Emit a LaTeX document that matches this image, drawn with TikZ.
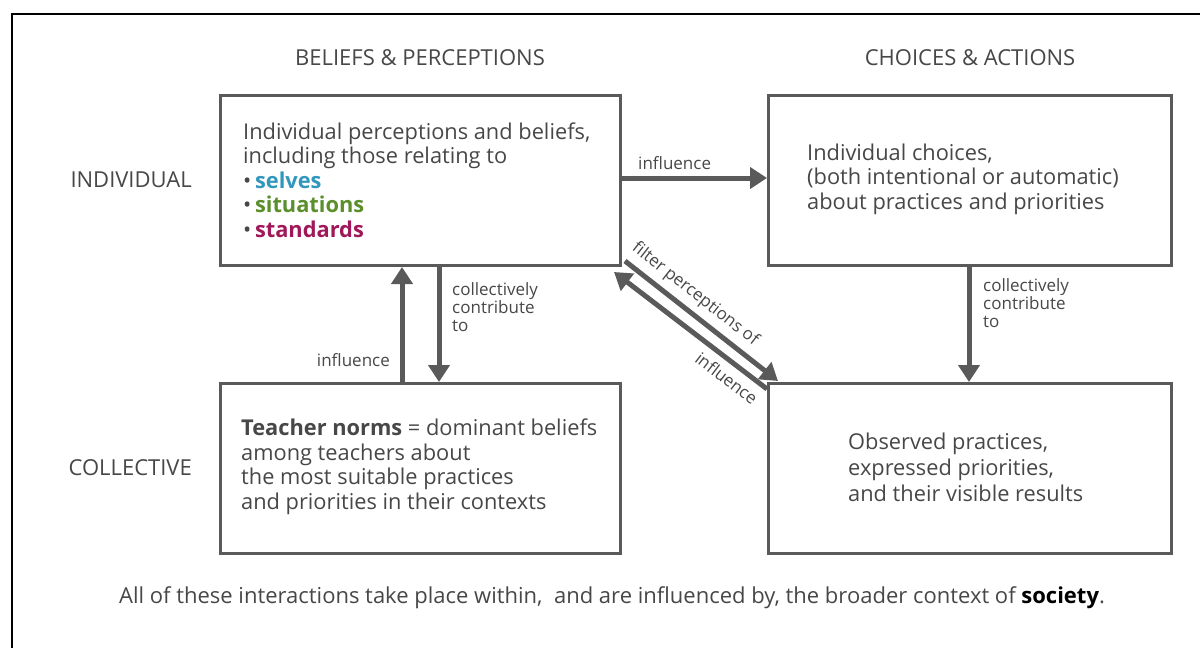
\documentclass[tikz,border=0pt]{standalone}
\usepackage{fontspec}
\setmainfont{Open Sans}
\usetikzlibrary{arrows.meta,calc}
\definecolor{ink}{HTML}{474747}
\definecolor{edge}{HTML}{5A5A5A}
\definecolor{selvesc}{HTML}{3297BD}
\definecolor{situc}{HTML}{5A8F2C}
\definecolor{standc}{HTML}{A1185A}
\begin{document}
\begin{tikzpicture}[x=1pt,y=-1pt,
  panel/.style={draw=edge,line width=3pt,minimum width=400pt,minimum height=170pt,anchor=north west,inner sep=0pt},
  body/.style={font=\fontsize{21.8}{24.5}\selectfont,text=ink,align=left,anchor=west,inner sep=0pt},
  head/.style={font=\fontsize{22}{24}\selectfont,text=ink,inner sep=0pt},
  small/.style={font=\fontsize{17}{18}\selectfont,text=ink,align=left,inner sep=0pt},
  flow/.style={draw=edge,line width=5pt,-{Triangle[width=21pt,length=17pt]}}]
\useasboundingbox (0,0) rectangle (1200,648);
% outer frame
\draw[black,line width=2pt] (12,648) -- (12,14) -- (1200,14);

% column and row headings
\node[head] (h1) at (420,58) {BELIEFS \& PERCEPTIONS};
\node[head] (h2) at (970,58) {CHOICES \& ACTIONS};
\node[head,anchor=east] (r1) at (192,180) {INDIVIDUAL};
\node[head,anchor=east] (r2) at (192,468) {COLLECTIVE};

% the four panels
\node[panel] (A) at (219,94) {};
\node[panel,minimum width=403pt] (B) at (767,94) {};
\node[panel] (C) at (219,382) {};
\node[panel,minimum width=403pt] (D) at (767,382) {};

\node[body] (ta) at (243,180) {Individual perceptions and beliefs,\\including those relating to\\%
  \textbullet\,\textcolor{selvesc}{\textbf{selves}}\\%
  \textbullet\,\textcolor{situc}{\textbf{situations}}\\%
  \textbullet\,\textcolor{standc}{\textbf{standards}}};
\node[body] (tb) at (807,179) {Individual choices,\\(both intentional or automatic)\\about practices and priorities};
\node[body] (tc) at (241,467) {\textbf{Teacher norms} = dominant beliefs\\among teachers about\\the most suitable practices\\and priorities in their contexts};
\node[body,font=\fontsize{21.8}{26}\selectfont] (td) at (848,467) {Observed practices,\\expressed priorities,\\and their visible results};

% connectors
\draw[flow] (A.east |- 0,178) -- (B.west |- 0,178);
\node[small,anchor=west] (l1) at (638,163) {influence};

\draw[flow] (C.north -| 402,0) -- (A.south -| 402,0);
\node[small,anchor=east] (l2) at (390,360) {influence};

\draw[flow] (A.south -| 439,0) -- (C.north -| 439,0);
\node[small,anchor=north west] (l3) at (452,282) {collectively\\contribute\\to};

\draw[flow] (B.south -| 969,0) -- (D.north -| 969,0);
\node[small,anchor=north west] (l4) at (983,278) {collectively\\contribute\\to};

\draw[flow] ($(A.south east)+(3,-6)$) -- node[small,pos=0.39,sloped,above=6pt] (l5) {filter perceptions of} ($(D.north west)+(11,-1)$);
\draw[flow] ($(D.north west)+(0,7)$) -- node[small,pos=0.2,sloped,below=7pt] (l6) {influence} ($(A.south east)+(-8,5)$);

% closing remark
\node[font=\fontsize{22}{24}\selectfont,text=ink,inner sep=0pt] (foot) at (612,598) {All of these interactions take place within,\ \ and are influenced by, the broader context of \textcolor{black}{\textbf{society}}.};
\end{tikzpicture}
\end{document}
